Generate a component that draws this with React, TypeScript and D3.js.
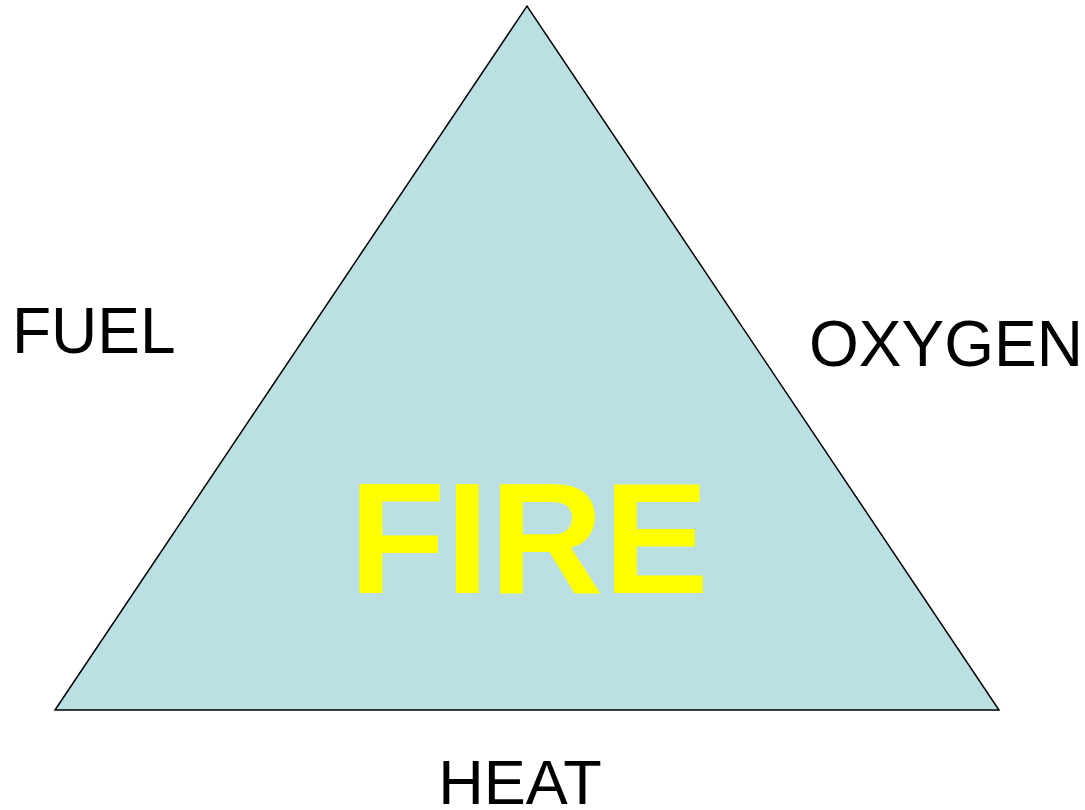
import React from 'react';
import * as d3 from 'd3';

// triangle corners in unit space (x: 0 left -> 1 right, y: 0 base -> 1 apex)
const cornerNames = ['base-left', 'apex', 'base-right'];
const cornerX = [0, 0.5, 1];
const cornerY = [0, 1, 0];

const sideLabels = ['FUEL', 'OXYGEN', 'HEAT'];
const centerLabel = 'FIRE';

const W = 1085;
const H = 810;

export default function App() {
  const x = d3.scaleLinear().domain([0, 1]).range([47, 991]);
  const y = d3.scaleLinear().domain([0, 1]).range([702, -2]);

  const pts: [number, number][] = cornerNames.map((_, i) => [x(cornerX[i]), y(cornerY[i])]);
  const path = d3.line()(pts) + 'Z';

  const font = 'Arial, "Liberation Sans", Helvetica, sans-serif';

  return (
    <svg width={W} height={H} style={{ position: 'absolute', left: 0, top: 0 }}>
      <rect width={W} height={H} fill="#ffffff" />
      <g transform="translate(8,8)">
        <path d={path} fill="#BAE0E3" stroke="#000" strokeWidth={1.5} strokeLinejoin="miter" />
      </g>
      <text x={12} y={353} fontFamily={font} fontSize={64} fill="#000">{sideLabels[0]}</text>
      <text x={809} y={366} fontFamily={font} fontSize={64} fill="#000">{sideLabels[1]}</text>
      <text x={520} y={804} textAnchor="middle" fontFamily={font} fontSize={63} fill="#000">{sideLabels[2]}</text>
      <text x={529} y={593} textAnchor="middle" fontFamily={font} fontSize={158} fontWeight="bold" fill="#FFFF00">{centerLabel}</text>
    </svg>
  );
}
